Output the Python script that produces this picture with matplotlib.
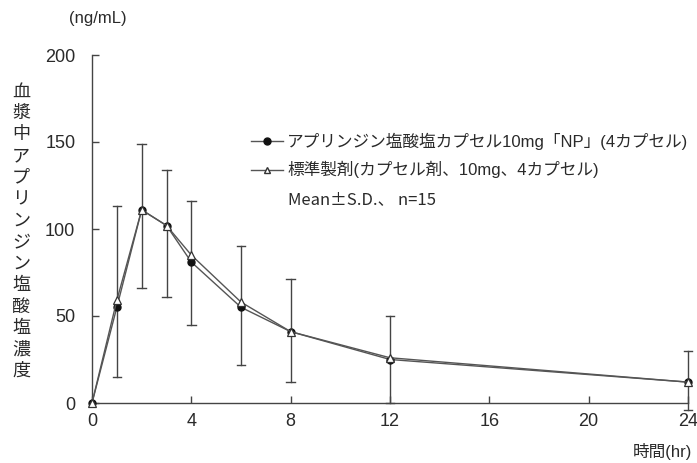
import matplotlib.pyplot as plt
from matplotlib.lines import Line2D

plt.rcParams['font.family'] = ['Liberation Sans', 'Noto Sans CJK JP', 'DejaVu Sans']

# --- data ---
hours = [0, 1, 2, 3, 4, 6, 8, 12, 24]
test_mean = [0, 55, 111, 102, 81, 55, 41, 25, 12]      # アプリンジン塩酸塩カプセル10mg「NP」
ref_mean = [0, 59, 111, 102, 85, 58, 41, 26, 12]       # 標準製剤
sd_upper = [0, 113, 149, 134, 116, 90, 71, 50, 30]
sd_lower = [0, 15, 66, 61, 45, 22, 12, 0, -4]

x_ticks = [0, 4, 8, 12, 16, 20, 24]
y_ticks = [0, 50, 100, 150, 200]

label_test = 'アプリンジン塩酸塩カプセル10mg「NP」(4カプセル)'
label_ref = '標準製剤(カプセル剤、10mg、4カプセル)'
ylabel_text = '血漿中アプリンジン塩酸塩濃度'

TXT = '#2a2a2a'
LINE = '#555555'

fig = plt.figure(figsize=(6.97, 4.63), dpi=100)
ax = fig.add_axes([92 / 697, 60 / 463, 596 / 697, 348 / 463])

# error bars (Mean ± S.D.)
for t, lo, hi in zip(hours[1:], sd_lower[1:], sd_upper[1:]):
    ax.plot([t, t], [lo, hi], color='#444444', lw=1.0, zorder=2, clip_on=False)
    for v in (lo, hi):
        ax.plot([t - 0.17, t + 0.17], [v, v], color='#444444', lw=1.0, zorder=2, clip_on=False)

ax.plot(hours, ref_mean, color=LINE, lw=1.0, marker='^', ms=6,
        mfc='white', mec='#333333', mew=0.9, zorder=4, clip_on=False)
ax.plot(hours, test_mean, color=LINE, lw=1.0, marker='o', ms=5,
        mfc='#111111', mec='#111111', zorder=3, clip_on=False)

ax.set_xlim(0, 24)
ax.set_ylim(0, 200)
ax.set_xticks(x_ticks)
ax.set_yticks(y_ticks)
ax.tick_params(direction='in', length=5, width=1, colors='#444444',
               labelcolor=TXT, labelsize=13)
ax.tick_params(axis='x', pad=7)
ax.tick_params(axis='y', pad=12)
for s in ('top', 'right'):
    ax.spines[s].set_visible(False)
for s in ('left', 'bottom'):
    ax.spines[s].set_color('#444444')
    ax.spines[s].set_linewidth(1)

# legend
handles = [
    Line2D([0], [0], color=LINE, lw=1.0, marker='o', ms=5, mfc='#111111', mec='#111111'),
    Line2D([0], [0], color=LINE, lw=1.0, marker='^', ms=5, mfc='white', mec='#333333'),
]
leg = fig.legend(handles, [label_test, label_ref], loc='upper left',
                 bbox_to_anchor=(243 / 697, 1 - 124 / 463), frameon=False,
                 fontsize=12, handlelength=1.9, handletextpad=0.25,
                 labelspacing=0.7, borderpad=0, labelcolor=TXT)

# wide ± as in the reference -> CJK font for this line
fig.text(288 / 697, 1 - 200 / 463, 'Mean±S.D.、 n=15', fontsize=12,
         color=TXT, va='center', ha='left', family=['Noto Sans CJK JP', 'DejaVu Sans'])

# units and axis titles
fig.text(98 / 697, 1 - 19 / 463, '(ng/mL)', fontsize=12, color=TXT,
         ha='center', va='center')
fig.text(662 / 697, 1 - 451 / 463, '時間(hr)', fontsize=12, color=TXT,
         ha='center', va='center')

for i, ch in enumerate(ylabel_text):
    fig.text(21 / 697, 1 - (92 + i * 21.5) / 463, ch, fontsize=13,
             color=TXT, ha='center', va='center')

fig.savefig('out.png', dpi=100)
